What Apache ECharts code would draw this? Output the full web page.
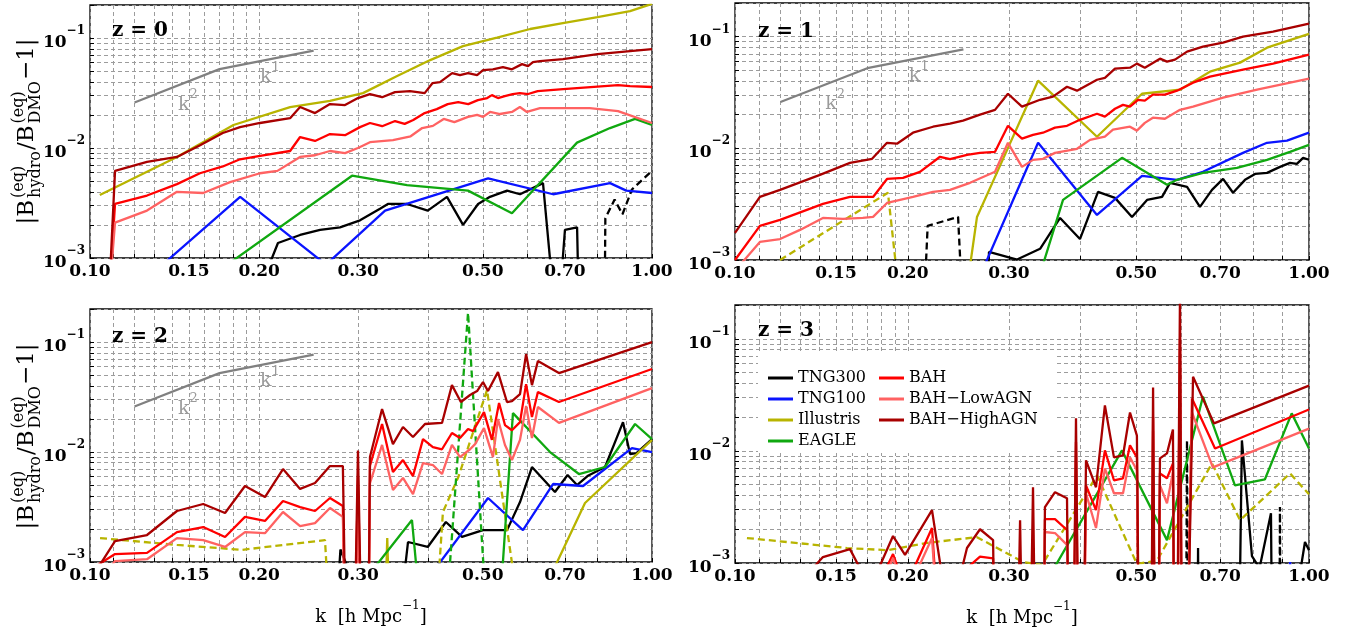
<!DOCTYPE html>
<html>
<head>
<meta charset="utf-8">
<script src="https://cdn.jsdelivr.net/npm/echarts@6.0.0/dist/echarts.min.js"></script>
<style>
  html, body { margin: 0; padding: 0; background: #ffffff; }
  #chart { width: 1352px; height: 628px; }
</style>
</head>
<body>
<div id="chart"></div>
<script>
// ---- axis ticks ---------------------------------------------------------
const K_TICKS = [0.1, 0.11, 0.12, 0.13, 0.14, 0.15, 0.16, 0.17, 0.18, 0.19, 0.2,
                 0.3, 0.4, 0.5, 0.6, 0.7, 0.8, 0.9, 1.0];
const K_LABELS = [0.1, 0.15, 0.2, 0.3, 0.5, 0.7, 1.0];
const B_TICKS = [0.001, 0.002, 0.003, 0.004, 0.005, 0.006, 0.007, 0.008, 0.009,
                 0.01, 0.02, 0.03, 0.04, 0.05, 0.06, 0.07, 0.08, 0.09, 0.1, 0.2];
const B_LABELS = [0.001, 0.01, 0.1];
const REDSHIFTS = ['z = 0', 'z = 1', 'z = 2', 'z = 3'];

// ---- slope guide (k^2 then k^1) -----------------------------------------
const slopeGuide = [[0.12, 0.026], [0.17, 0.0522], [0.25, 0.0768]];
const slopeLabelK2 = [0.1494, 0.0267];
const slopeLabelK1 = [0.209, 0.0472];

// ---- z = 0 ----------------------------------------------------------------
const z0_tng300 = [[0.205,0.0007],[0.216,0.00137],[0.2365,0.00162],[0.2567,0.0018],[0.2785,0.0019],[0.3023,0.0022],[0.3281,0.0028],[0.3389,0.0031],[0.3665,0.0031],[0.399,0.0027],[0.4317,0.0036],[0.4611,0.0020],[0.4904,0.0031],[0.5149,0.0036],[0.5522,0.0041],[0.5823,0.0038],[0.6398,0.0048],[0.6776,0.0002],[0.70,0.0018],[0.7357,0.0019],[0.745,0.0001]];
const z0_tng300_neg = [[0.823,0.0002],[0.826,0.0023],[0.858,0.0034],[0.886,0.0025],[0.921,0.0042],[1.0,0.0062]];
const z0_tng100 = [[0.12,0.00052],[0.185,0.0036],[0.263,0.00087],[0.335,0.0027],[0.511,0.0053],[0.667,0.0038],[0.842,0.0048],[0.9,0.0041],[1.0,0.0039]];
const z0_illustris = [[0.1041,0.00374],[0.1428,0.0083],[0.18,0.0162],[0.227,0.0236],[0.2673,0.0268],[0.306,0.0316],[0.352,0.0452],[0.403,0.0631],[0.461,0.0846],[0.53,0.101],[0.607,0.121],[0.694,0.137],[0.8,0.155],[0.914,0.176],[1.0,0.205]];
const z0_illustris_neg = [];
const z0_eagle = [[0.15,0.00049],[0.2926,0.0056],[0.3665,0.0046],[0.4706,0.0041],[0.5634,0.00255],[0.7355,0.0112],[0.842,0.0152],[0.933,0.0184],[1.0,0.0162]];
const z0_eagle_neg = [];
const z0_bah = [[0.108,0.0004],[0.1108,0.0031],[0.1263,0.0037],[0.1428,0.0047],[0.1569,0.0059],[0.1723,0.0068],[0.1849,0.0079],[0.2007,0.0085],[0.227,0.0094],[0.2365,0.0126],[0.2514,0.0116],[0.2673,0.0134],[0.2843,0.0131],[0.3023,0.0155],[0.3149,0.0169],[0.331,0.0158],[0.349,0.0176],[0.363,0.0166],[0.376,0.018],[0.394,0.0208],[0.414,0.0226],[0.433,0.0251],[0.452,0.0262],[0.471,0.0251],[0.49,0.0273],[0.509,0.0285],[0.519,0.0303],[0.532,0.0285],[0.547,0.0297],[0.565,0.031],[0.582,0.0316],[0.602,0.031],[0.626,0.033],[0.695,0.0344],[0.87,0.0374],[0.914,0.0366],[1.0,0.0359]];
const z0_lowagn = [[0.108,0.0004],[0.1108,0.0021],[0.1263,0.0027],[0.1428,0.0040],[0.159,0.0039],[0.1775,0.0049],[0.2007,0.0059],[0.2155,0.0062],[0.2365,0.0083],[0.2514,0.0086],[0.2673,0.0094],[0.2843,0.0090],[0.2998,0.0100],[0.3149,0.0113],[0.346,0.0118],[0.372,0.0128],[0.39,0.0152],[0.4075,0.0159],[0.426,0.0184],[0.445,0.0172],[0.4706,0.0192],[0.4884,0.020],[0.5004,0.0192],[0.515,0.0213],[0.5365,0.0204],[0.5634,0.0213],[0.582,0.0236],[0.599,0.0213],[0.632,0.0231],[0.695,0.0231],[0.775,0.0231],[0.87,0.0217],[1.0,0.0169]];
const z0_highagn = [[0.108,0.0004],[0.1108,0.0062],[0.1263,0.0075],[0.1428,0.0083],[0.157,0.0106],[0.1723,0.0137],[0.1849,0.0155],[0.2007,0.0169],[0.227,0.0187],[0.2365,0.0236],[0.2514,0.0208],[0.2673,0.0251],[0.2843,0.0246],[0.2998,0.0285],[0.3149,0.0309],[0.331,0.029],[0.3489,0.0323],[0.371,0.033],[0.394,0.0316],[0.407,0.039],[0.4195,0.0398],[0.441,0.048],[0.4554,0.0461],[0.4706,0.048],[0.4884,0.0461],[0.5004,0.0512],[0.521,0.052],[0.5428,0.0545],[0.5634,0.052],[0.5871,0.058],[0.6017,0.0556],[0.614,0.0605],[0.632,0.0618],[0.6945,0.0645],[0.8,0.0715],[0.914,0.0762],[1.0,0.0795]];

// ---- z = 1 ----------------------------------------------------------------
const z1_tng300 = [[0.2755,0.0004],[0.277,0.00118],[0.31,0.00101],[0.34,0.00126],[0.3684,0.00238],[0.399,0.00154],[0.429,0.00407],[0.4592,0.0036],[0.4916,0.00243],[0.5222,0.00345],[0.5546,0.00367],[0.5726,0.00491],[0.6131,0.00452],[0.6457,0.00299],[0.6776,0.00425],[0.7084,0.00532],[0.7373,0.0040],[0.7736,0.00522],[0.8054,0.0059],[0.845,0.00603],[0.8902,0.00682],[0.9267,0.0074],[0.9524,0.00726],[0.9766,0.00822],[1.0,0.0079]];
const z1_tng300_neg = [[0.2135,0.0004],[0.2166,0.00202],[0.2447,0.00243],[0.249,0.0004]];
const z1_tng100 = [[0.2672,0.00072],[0.3373,0.0112],[0.4272,0.00253],[0.5117,0.00566],[0.589,0.00522],[0.6535,0.00616],[0.7674,0.0091],[0.845,0.0112],[0.9156,0.0117],[1.0,0.0138]];
const z1_illustris = [[0.254,0.0006],[0.264,0.00243],[0.2838,0.00555],[0.3373,0.0403],[0.4272,0.0127],[0.5117,0.0308],[0.5961,0.0335],[0.672,0.0485],[0.7584,0.0585],[0.845,0.0796],[1.0,0.106]];
const z1_illustris_neg = [[0.1198,0.001],[0.1847,0.0040],[0.194,0.0004]];
const z1_eagle = [[0.34,0.00075],[0.3728,0.00345],[0.4723,0.00822],[0.5657,0.00471],[0.589,0.00522],[0.6535,0.00603],[0.749,0.00668],[0.845,0.00788],[0.9267,0.0093],[1.0,0.01075]];
const z1_eagle_neg = [];
const z1_bah = [[0.1,0.001],[0.1105,0.00202],[0.1198,0.00229],[0.1423,0.00318],[0.1586,0.00367],[0.174,0.00367],[0.184,0.00532],[0.1962,0.00544],[0.21,0.00616],[0.2276,0.0084],[0.2369,0.0080],[0.2536,0.00875],[0.2672,0.0091],[0.2838,0.0093],[0.2989,0.0159],[0.3162,0.0122],[0.3305,0.0132],[0.344,0.0138],[0.361,0.0153],[0.3788,0.0159],[0.399,0.018],[0.4272,0.0204],[0.441,0.0192],[0.4592,0.0226],[0.4742,0.0245],[0.4877,0.0236],[0.5036,0.0272],[0.5176,0.0267],[0.5346,0.0302],[0.561,0.0302],[0.589,0.0328],[0.628,0.0387],[0.672,0.0438],[0.7674,0.0506],[0.8657,0.0573],[1.0,0.069]];
const z1_lowagn = [[0.1,0.0008],[0.1105,0.00145],[0.1198,0.00154],[0.1298,0.00186],[0.1423,0.00238],[0.1542,0.00233],[0.167,0.00238],[0.174,0.00243],[0.184,0.00324],[0.1939,0.00345],[0.2042,0.00367],[0.2213,0.00407],[0.2369,0.00425],[0.2567,0.00491],[0.2838,0.00616],[0.2989,0.0112],[0.3162,0.00682],[0.3305,0.00788],[0.344,0.00805],[0.361,0.0091],[0.3943,0.0099],[0.4155,0.0119],[0.441,0.0127],[0.4555,0.0147],[0.4877,0.0156],[0.5014,0.0144],[0.5176,0.0169],[0.5346,0.0188],[0.561,0.0184],[0.5961,0.0221],[0.628,0.0236],[0.7084,0.0284],[0.812,0.0335],[1.0,0.042]];
const z1_highagn = [[0.1,0.00175],[0.1105,0.00367],[0.1198,0.00425],[0.1406,0.00578],[0.1586,0.00741],[0.1733,0.00805],[0.184,0.0112],[0.1915,0.0110],[0.2042,0.0138],[0.2213,0.0156],[0.2369,0.0166],[0.2496,0.0177],[0.2672,0.020],[0.2838,0.0221],[0.2989,0.0308],[0.3162,0.0236],[0.34,0.0272],[0.358,0.029],[0.3788,0.0356],[0.3943,0.0328],[0.4272,0.0411],[0.441,0.0428],[0.4592,0.0516],[0.4877,0.0527],[0.5014,0.0573],[0.5176,0.0527],[0.55,0.0635],[0.5657,0.0597],[0.5842,0.0622],[0.6131,0.0734],[0.6535,0.0813],[0.7084,0.0883],[0.7674,0.1],[0.8657,0.111],[1.0,0.131]];

// ---- z = 2 ----------------------------------------------------------------
const z2_tng300 = [[0.275,0.0004],[0.279,0.0013],[0.286,0.00095],[0.292,0.0003],[0.355,0.0003],[0.368,0.00152],[0.399,0.00137],[0.4298,0.00231],[0.4591,0.00169],[0.5004,0.00195],[0.5522,0.00195],[0.5823,0.00351],[0.6115,0.00731],[0.672,0.00433],[0.7076,0.00618],[0.7355,0.00501],[0.7677,0.00605],[0.825,0.00731],[0.888,0.0187],[0.914,0.0096],[0.9384,0.0098],[1.0,0.0131]];
const z2_tng300_neg = [];
const z2_tng100 = [[0.4027,0.00075],[0.5108,0.00382],[0.5894,0.00195],[0.6666,0.00512],[0.7539,0.00491],[0.921,0.01087],[1.0,0.01]];
const z2_illustris = [[0.334,0.0002],[0.338,0.00165],[0.342,0.0002],[0.6585,0.00073],[0.76,0.00344],[1.0,0.0129]];
const z2_illustris_neg = [[0.1042,0.00165],[0.1428,0.00143],[0.1864,0.00129],[0.2619,0.00158],[0.266,0.0004],[0.414,0.0004],[0.4246,0.00285],[0.4523,0.00593],[0.5087,0.0366],[0.57,0.00065]];
const z2_eagle = [[0.302,0.0006],[0.374,0.00241],[0.3865,0.0004],[0.538,0.0005],[0.5657,0.0226],[0.6585,0.0100],[0.7413,0.00631],[0.825,0.00731],[0.933,0.018],[1.0,0.0131]];
const z2_eagle_neg = [[0.433,0.0005],[0.4706,0.185],[0.505,0.0005]];
const z2_bah = [[0.1,0.00085],[0.1108,0.00118],[0.1263,0.00121],[0.1428,0.00187],[0.159,0.00208],[0.1739,0.00169],[0.1887,0.00257],[0.2048,0.00236],[0.2205,0.00359],[0.2365,0.00316],[0.2514,0.00291],[0.2673,0.00382],[0.2818,0.00323],[0.29,1e-6],[0.2998,0.006],[0.31,1e-6],[0.3149,0.0075],[0.3309,0.018],[0.346,0.00658],[0.3605,0.00846],[0.3756,0.00605],[0.3913,0.0131],[0.4075,0.0111],[0.423,0.0106],[0.4406,0.0149],[0.4554,0.0134],[0.4706,0.0162],[0.4803,0.0155],[0.5024,0.0231],[0.519,0.0129],[0.5344,0.0279],[0.5475,0.0176],[0.5634,0.0158],[0.5823,0.0187],[0.597,0.0415],[0.6115,0.0208],[0.6266,0.0351],[0.683,0.0285],[1.0,0.0569]];
const z2_lowagn = [[0.1,0.0005],[0.1108,0.00102],[0.1263,0.00106],[0.1428,0.00165],[0.159,0.00158],[0.1739,0.00137],[0.1887,0.00187],[0.2048,0.00183],[0.2205,0.00285],[0.2365,0.00212],[0.2514,0.00226],[0.2673,0.0031],[0.2818,0.00257],[0.29,1e-6],[0.2998,0.004],[0.31,1e-6],[0.3149,0.0052],[0.3309,0.0116],[0.346,0.00452],[0.3605,0.00581],[0.3756,0.00415],[0.3913,0.00794],[0.4075,0.00762],[0.423,0.00631],[0.4406,0.0116],[0.4554,0.009],[0.4745,0.0106],[0.4844,0.0118],[0.5024,0.0165],[0.5212,0.009],[0.532,0.020],[0.5475,0.0116],[0.5634,0.00846],[0.5823,0.0129],[0.597,0.0262],[0.6115,0.0134],[0.6266,0.0257],[0.683,0.0184],[1.0,0.0382]];
const z2_highagn = [[0.1,0.00068],[0.1108,0.00155],[0.1263,0.00176],[0.1428,0.00291],[0.159,0.00337],[0.1739,0.00279],[0.1887,0.00491],[0.2048,0.0039],[0.2205,0.0070],[0.2365,0.00462],[0.2514,0.00523],[0.2673,0.00746],[0.2818,0.00746],[0.29,1e-6],[0.2998,0.0103],[0.31,1e-6],[0.3149,0.009],[0.3309,0.0246],[0.346,0.0118],[0.3605,0.0169],[0.3756,0.0137],[0.3945,0.018],[0.423,0.0184],[0.4406,0.0406],[0.457,0.0285],[0.4745,0.033],[0.4884,0.0359],[0.5004,0.0433],[0.5107,0.0359],[0.532,0.0533],[0.552,0.0285],[0.5634,0.029],[0.5823,0.0337],[0.597,0.0778],[0.6115,0.0406],[0.6266,0.0672],[0.683,0.0523],[1.0,0.1]];

// ---- z = 3 ----------------------------------------------------------------
const z3_tng300 = [[0.636,1e-6],[0.6408,0.00136],[0.646,1e-6],[0.745,1e-6],[0.764,0.0124],[0.7955,0.00115],[0.82,0.0009],[0.8585,0.00278],[0.87,1e-6],[0.95,0.0005],[0.984,0.00154],[1.0,0.0013]];
const z3_tng300_neg = [[0.608,1e-6],[0.613,0.0124],[0.618,1e-6],[0.885,1e-6],[0.89,0.00315],[0.895,1e-6]];
const z3_tng100 = [[0.92,0.0005],[0.927,0.00102],[0.934,0.0005]];
const z3_illustris = [];
const z3_illustris_neg = [[0.1049,0.00167],[0.1567,0.00136],[0.1847,0.0013],[0.216,0.00151],[0.264,0.0017],[0.3176,0.00102],[0.3426,0.00096],[0.4272,0.00605],[0.5014,0.00098],[0.5435,0.00105],[0.6776,0.00774],[0.7584,0.00241],[0.9267,0.0063],[1.0,0.0041]];
const z3_eagle = [[0.3467,0.00065],[0.4723,0.0101],[0.5657,0.0016],[0.6535,0.0305],[0.743,0.00493],[0.838,0.00558],[0.933,0.0216],[1.0,0.0105]];
const z3_eagle_neg = [];
const z3_bah = [[0.17,0.0004],[0.1885,0.0012],[0.1978,0.0006],[0.2204,0.00205],[0.236,1e-5],[0.2536,0.0009],[0.2672,0.00114],[0.2816,0.0011],[0.287,1e-6],[0.343,1e-6],[0.3467,0.00246],[0.361,0.00246],[0.3788,0.00197],[0.385,1e-6],[0.3927,0.012],[0.40,1e-6],[0.4088,0.00493],[0.4255,0.00296],[0.441,0.0101],[0.4573,0.00547],[0.4742,0.00569],[0.4877,0.0112],[0.5014,0.00875],[0.51,1e-6],[0.528,1e-6],[0.535,0.02],[0.542,1e-6],[0.55,0.0063],[0.5657,0.0057],[0.5794,0.00774],[0.585,1e-6],[0.596,0.1],[0.603,1e-6],[0.6254,0.0293],[0.686,0.0105],[1.0,0.0234]];
const z3_lowagn = [[0.17,0.0003],[0.1885,0.00111],[0.1978,0.0005],[0.2204,0.00167],[0.236,1e-5],[0.2672,0.0009],[0.287,1e-6],[0.343,1e-6],[0.3467,0.00189],[0.361,0.00185],[0.3788,0.00145],[0.385,1e-6],[0.3927,0.008],[0.40,1e-6],[0.4088,0.00419],[0.4255,0.00205],[0.441,0.00699],[0.4573,0.00419],[0.4742,0.00419],[0.4877,0.00875],[0.5014,0.00671],[0.51,1e-6],[0.528,1e-6],[0.535,0.015],[0.542,1e-6],[0.55,0.00493],[0.5657,0.00341],[0.5794,0.00644],[0.585,1e-6],[0.596,0.08],[0.603,1e-6],[0.6254,0.022],[0.68,0.00713],[1.0,0.0158]];
const z3_highagn = [[0.1367,0.0009],[0.1423,0.00113],[0.1586,0.00133],[0.172,0.0006],[0.1885,0.00174],[0.1978,0.00118],[0.2204,0.00296],[0.236,0.0003],[0.2536,0.00136],[0.2672,0.002],[0.2816,0.0016],[0.287,1e-6],[0.305,1e-6],[0.3138,0.0024],[0.322,1e-6],[0.3305,0.00474],[0.338,1e-6],[0.343,1e-6],[0.3467,0.00315],[0.361,0.00428],[0.3788,0.00378],[0.385,1e-6],[0.3927,0.0195],[0.40,1e-6],[0.4088,0.00824],[0.4255,0.00474],[0.441,0.0254],[0.4573,0.00875],[0.4742,0.0091],[0.4877,0.022],[0.5014,0.0137],[0.51,1e-6],[0.528,1e-6],[0.535,0.0367],[0.542,1e-6],[0.55,0.00858],[0.5657,0.0095],[0.5794,0.0155],[0.585,1e-6],[0.596,0.25],[0.603,1e-6],[0.628,0.0459],[0.683,0.0176],[1.0,0.0382]];

// ---- styling ------------------------------------------------------------
const FONT = "'DejaVu Serif', serif";
const COLORS = {
  'TNG300': '#000000',
  'TNG100': '#0a14ff',
  'Illustris': '#b8b400',
  'EAGLE': '#10a810',
  'BAH': '#ff0000',
  'BAH\u2212LowAGN': '#ff6262',
  'BAH\u2212HighAGN': '#a80000'
};
const GUIDE_COLOR = '#808080';

const panels = [
  { tng300: z0_tng300, tng300Neg: z0_tng300_neg, tng100: z0_tng100, ill: z0_illustris, illNeg: z0_illustris_neg, eagle: z0_eagle, eagleNeg: z0_eagle_neg, bah: z0_bah, low: z0_lowagn, high: z0_highagn, guide: true },
  { tng300: z1_tng300, tng300Neg: z1_tng300_neg, tng100: z1_tng100, ill: z1_illustris, illNeg: z1_illustris_neg, eagle: z1_eagle, eagleNeg: z1_eagle_neg, bah: z1_bah, low: z1_lowagn, high: z1_highagn, guide: true },
  { tng300: z2_tng300, tng300Neg: z2_tng300_neg, tng100: z2_tng100, ill: z2_illustris, illNeg: z2_illustris_neg, eagle: z2_eagle, eagleNeg: z2_eagle_neg, bah: z2_bah, low: z2_lowagn, high: z2_highagn, guide: true },
  { tng300: z3_tng300, tng300Neg: z3_tng300_neg, tng100: z3_tng100, ill: z3_illustris, illNeg: z3_illustris_neg, eagle: z3_eagle, eagleNeg: z3_eagle_neg, bah: z3_bah, low: z3_lowagn, high: z3_highagn, guide: false }
];

// plot frames: top-left, top-right, bottom-left, bottom-right
const frames = [
  { left: 90,  top: 5,   width: 562, height: 253 },
  { left: 735, top: 3,   width: 574, height: 257 },
  { left: 90,  top: 309, width: 562, height: 253 },
  { left: 735, top: 305, width: 574, height: 258 }
];

function lineSeries(name, data, idx, dashed) {
  return {
    name: name, type: 'line', xAxisIndex: idx, yAxisIndex: idx,
    data: data, symbol: 'none', clip: true, silent: true,
    lineStyle: { color: COLORS[name], width: 2.3, type: dashed ? [7, 4] : 'solid' },
    itemStyle: { color: COLORS[name] }
  };
}

const series = [];
panels.forEach(function (p, i) {
  series.push(lineSeries('TNG300', p.tng300, i, false));
  if (p.tng300Neg.length) series.push(lineSeries('TNG300', p.tng300Neg, i, true));
  series.push(lineSeries('TNG100', p.tng100, i, false));
  if (p.ill.length) series.push(lineSeries('Illustris', p.ill, i, false));
  if (p.illNeg.length) series.push(lineSeries('Illustris', p.illNeg, i, true));
  series.push(lineSeries('EAGLE', p.eagle, i, false));
  if (p.eagleNeg.length) series.push(lineSeries('EAGLE', p.eagleNeg, i, true));
  series.push(lineSeries('BAH', p.bah, i, false));
  series.push(lineSeries('BAH\u2212LowAGN', p.low, i, false));
  series.push(lineSeries('BAH\u2212HighAGN', p.high, i, false));
  if (p.guide) {
    series.push({
      name: 'slope', type: 'line', xAxisIndex: i, yAxisIndex: i, data: slopeGuide,
      symbol: 'none', silent: true,
      lineStyle: { color: GUIDE_COLOR, width: 2.2 },
      markPoint: {
        symbol: 'circle', symbolSize: 0, silent: true,
        label: {
          show: true, position: 'inside', color: '#9a9a9a',
          rich: {
            m: { fontFamily: FONT, fontSize: 19, lineHeight: 26, verticalAlign: 'bottom', color: '#9a9a9a' },
            s: { fontFamily: FONT, fontSize: 13, lineHeight: 13, verticalAlign: 'top', color: '#9a9a9a' }
          }
        },
        data: [
          { coord: slopeLabelK2, label: { formatter: '{m|k}{s|2}' } },
          { coord: slopeLabelK1, label: { formatter: '{m|k}{s|1}' } }
        ]
      }
    });
  }
});

const supMinus = function (n) { return String(n).replace('-', '\u2212'); };

const xAxes = frames.map(function (f, i) {
  const bottom = i >= 2;
  return {
    type: 'log', logBase: 10, min: 0.1, max: 1, gridIndex: i,
    axisLine: { show: false },
    axisTick: { show: true, inside: true, length: 4, customValues: K_TICKS, lineStyle: { color: '#000', width: 1 } },
    axisLabel: {
      customValues: K_LABELS, margin: 5, color: '#000',
      fontFamily: FONT, fontSize: 17, fontWeight: 'bold',
      formatter: function (v) { return Number(v).toFixed(2); }
    },
    splitLine: { show: true, lineStyle: { color: '#9c9c9c', width: 1, type: [4, 3] } },
    name: bottom ? '{m|k  [h Mpc}{s|\u22121}{m|]}' : '',
    nameLocation: 'middle', nameGap: 38,
    nameTextStyle: {
      rich: {
        m: { fontFamily: FONT, fontSize: 18, lineHeight: 26, verticalAlign: 'bottom', color: '#000' },
        s: { fontFamily: FONT, fontSize: 12, lineHeight: 12, verticalAlign: 'top', color: '#000' }
      }
    }
  };
});

const yAxes = frames.map(function (f, i) {
  return {
    type: 'log', logBase: 10, min: 0.001, max: 0.2, gridIndex: i,
    axisLine: { show: false },
    axisTick: { show: true, inside: true, length: 4, customValues: B_TICKS, lineStyle: { color: '#000', width: 1 } },
    axisLabel: {
      customValues: B_LABELS, margin: 5,
      formatter: function (v) {
        return '{b|10}{s|' + supMinus(Math.round(Math.log10(v))) + '}';
      },
      rich: {
        b: { fontFamily: FONT, fontSize: 17, fontWeight: 'bold', lineHeight: 26, verticalAlign: 'bottom', color: '#000' },
        s: { fontFamily: FONT, fontSize: 12, fontWeight: 'bold', lineHeight: 12, verticalAlign: 'top', color: '#000' }
      }
    },
    splitLine: { show: true, lineStyle: { color: '#9c9c9c', width: 1, type: [4, 3] } }
  };
});

const grids = frames.map(function (f) {
  return {
    left: f.left, top: f.top, width: f.width, height: f.height,
    show: true, borderColor: '#000', borderWidth: 1.3, backgroundColor: '#fff',
    containLabel: false
  };
});

// y-axis title |B^(eq)_hydro / B^(eq)_DMO - 1|, assembled from pieces and rotated
const measureCtx = document.createElement('canvas').getContext('2d');
function textWidth(text, font) { measureCtx.font = font; return measureCtx.measureText(text).width; }

function yTitle(cx, cy) {
  const bigFont = '23px ' + FONT;
  const smallFont = '16px ' + FONT;
  const pieces = [
    { main: '|B' },
    { sup: '(eq)', sub: 'hydro' },
    { main: '/B' },
    { sup: '(eq)', sub: 'DMO' },
    { main: '\u22121|' }
  ];
  const widths = pieces.map(function (p) {
    return p.main ? textWidth(p.main, bigFont) + 1
                  : Math.max(textWidth(p.sup, smallFont), textWidth(p.sub, smallFont)) + 2;
  });
  const total = widths.reduce(function (a, b) { return a + b; }, 0);
  let x = -total / 2;
  const children = [];
  pieces.forEach(function (p, j) {
    if (p.main) {
      children.push({ type: 'text', x: x, y: 0, style: { text: p.main, font: bigFont, fill: '#000', align: 'left', verticalAlign: 'middle' } });
    } else {
      children.push({ type: 'text', x: x + 1, y: -8, style: { text: p.sup, font: smallFont, fill: '#000', align: 'left', verticalAlign: 'middle' } });
      children.push({ type: 'text', x: x + 1, y: 9, style: { text: p.sub, font: smallFont, fill: '#000', align: 'left', verticalAlign: 'middle' } });
    }
    x += widths[j];
  });
  return { type: 'group', x: cx, y: cy, rotation: Math.PI / 2, silent: true, children: children };
}

const zLabelPos = [[112, 31], [758, 32], [112, 337], [758, 331]];
const graphics = REDSHIFTS.map(function (t, i) {
  return {
    type: 'text', x: zLabelPos[i][0], y: zLabelPos[i][1], silent: true, z: 50,
    style: { text: t, font: 'bold 20px ' + FONT, fill: '#000', align: 'left', verticalAlign: 'middle' }
  };
});
graphics.push(yTitle(27, 131));
graphics.push(yTitle(27, 436));

const legendText = { fontFamily: FONT, fontSize: 16, color: '#000' };
const option = {
  animation: false,
  backgroundColor: '#ffffff',
  grid: grids,
  xAxis: xAxes,
  yAxis: yAxes,
  legend: [
    {
      data: ['TNG300', 'TNG100', 'Illustris', 'EAGLE'],
      orient: 'vertical', left: 758, top: 352, icon: 'rect',
      itemWidth: 25, itemHeight: 3, itemGap: 5,
      padding: [18, 12, 4, 10], backgroundColor: '#ffffff',
      textStyle: legendText, selectedMode: false, z: 20
    },
    {
      data: ['BAH', 'BAH\u2212LowAGN', 'BAH\u2212HighAGN'],
      orient: 'vertical', left: 869, top: 352, icon: 'rect',
      itemWidth: 25, itemHeight: 3, itemGap: 5,
      padding: [18, 17, 25, 10], backgroundColor: '#ffffff',
      textStyle: legendText, selectedMode: false, z: 20
    }
  ],
  graphic: graphics,
  series: series
};

const chart = echarts.init(document.getElementById('chart'), null, { renderer: 'canvas', width: 1352, height: 628 });
chart.setOption(option);
</script>
</body>
</html>
